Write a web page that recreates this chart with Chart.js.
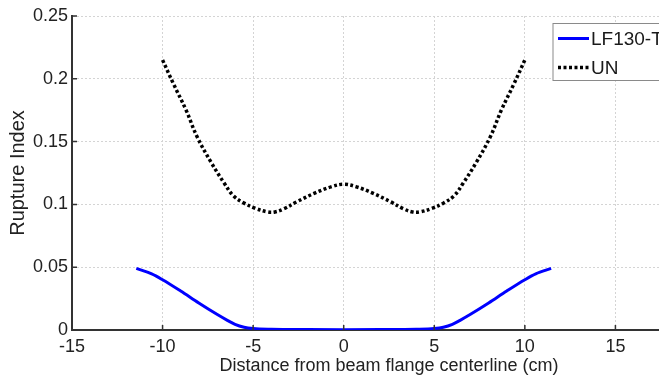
<!DOCTYPE html>
<html>
<head>
<meta charset="utf-8">
<script src="https://cdn.jsdelivr.net/npm/chart.js@4/dist/chart.umd.min.js"></script>
<style>
html,body{margin:0;padding:0;background:#fff;overflow:hidden;width:659px;height:383px;}
#wrap{position:absolute;left:0;top:0;width:722px;height:383px;}
</style>
</head>
<body>
<div id="wrap"><canvas id="c" width="722" height="383"></canvas></div>
<script>
// ---- data ----
const seriesNames = ["LF130-T", "UN"];
const lfX = [-11.45, -10.6, -10, -9, -8, -7, -6.4, -6, -5.5, -5, -4, -2, 0, 2, 4, 5, 5.5, 6, 6.4, 7, 8, 9, 10, 10.6, 11.45];
const lfY = [0.049, 0.0447, 0.040, 0.031, 0.0215, 0.0125, 0.0075, 0.0045, 0.0022, 0.0012, 0.0006, 0.0003, 0.0002, 0.0003, 0.0006, 0.0012, 0.0022, 0.0045, 0.0075, 0.0125, 0.0215, 0.031, 0.040, 0.0447, 0.049];
const unX = [-10, -9.4, -8.7, -8.1, -7.3, -6.6, -6.1, -5.5, -4.9, -4.2, -3.8, -3.3, -2.6, -1.6, -0.7, 0, 0.7, 1.6, 2.6, 3.3, 3.8, 4.2, 4.9, 5.5, 6.1, 6.6, 7.3, 8.1, 8.7, 9.4, 10];
const unY = [0.215, 0.196, 0.175, 0.154, 0.133, 0.117, 0.107, 0.101, 0.097, 0.094, 0.094, 0.0965, 0.102, 0.109, 0.114, 0.116, 0.114, 0.109, 0.102, 0.0965, 0.094, 0.094, 0.097, 0.101, 0.107, 0.117, 0.133, 0.154, 0.175, 0.196, 0.215];
const xTicks = [-15, -10, -5, 0, 5, 10, 15, 20];
const yTicks = [0, 0.05, 0.1, 0.15, 0.2, 0.25];
const xTitle = "Distance from beam flange centerline (cm)";
const yTitle = "Rupture Index";

const FONT = "'Liberation Sans', Arial, Helvetica, sans-serif";
const toPts = (xs, ys) => xs.map((x, i) => ({x: x, y: ys[i]}));

const innerTicks = {
  id: 'innerTicks',
  afterDraw(chart) {
    const {ctx, chartArea: a, scales: {x, y}} = chart;
    ctx.save();
    ctx.strokeStyle = '#333';
    ctx.lineWidth = 1.5;
    ctx.beginPath();
    xTicks.forEach(v => { const px = x.getPixelForValue(v); ctx.moveTo(px, a.bottom); ctx.lineTo(px, a.bottom - 5); });
    yTicks.forEach(v => { const py = y.getPixelForValue(v); ctx.moveTo(a.left, py); ctx.lineTo(a.left + 5, py); });
    ctx.stroke();
    ctx.restore();
  }
};

const boxLegend = {
  id: 'boxLegend',
  afterDraw(chart) {
    const ctx = chart.ctx;
    const ds = chart.data.datasets;
    const left = 553, top = 23.5, w = 140, h = 57;
    ctx.save();
    ctx.fillStyle = '#fff';
    ctx.fillRect(left, top, w, h);
    ctx.strokeStyle = '#8a8a8a';
    ctx.lineWidth = 1;
    ctx.strokeRect(left, top, w, h);
    ctx.font = "19px " + FONT;
    ctx.textBaseline = 'middle';
    ctx.fillStyle = '#1a1a1a';
    ds.forEach((d, i) => {
      const cy = top + 15 + i * 29;
      ctx.beginPath();
      ctx.strokeStyle = d.borderColor;
      ctx.lineWidth = d.borderWidth;
      ctx.setLineDash(d.borderDash || []);
      ctx.moveTo(558, cy); ctx.lineTo(589, cy);
      ctx.stroke();
      ctx.setLineDash([]);
      ctx.fillText(d.label, 591, cy + 1);
    });
    ctx.restore();
  }
};

new Chart(document.getElementById('c'), {
  type: 'line',
  data: {
    datasets: [
      { label: seriesNames[0], data: toPts(lfX, lfY), borderColor: '#0000ff', borderWidth: 3,
        pointRadius: 0, cubicInterpolationMode: 'monotone', fill: false },
      { label: seriesNames[1], data: toPts(unX, unY), borderColor: '#000000', borderWidth: 3.5,
        borderDash: [3, 2.5], pointRadius: 0, tension: 0.4, fill: false }
    ]
  },
  options: {
    responsive: false,
    animation: false,
    layout: { padding: { top: 16, right: 14, left: 0, bottom: 0 } },
    plugins: { legend: { display: false }, tooltip: { enabled: false } },
    scales: {
      x: {
        type: 'linear', min: -15, max: 20,
        afterBuildTicks: s => { s.ticks = xTicks.map(v => ({value: v})); },
        afterFit: s => { s.height = 53; },
        grid: { color: '#d4d4d4', lineWidth: 1, drawTicks: false },
        border: { display: true, color: '#333', width: 2, dash: [2, 2] },
        ticks: { color: '#222', font: { family: FONT, size: 18 }, padding: 6, maxRotation: 0,
                 callback: v => String(v) },
        title: { display: true, text: xTitle, color: '#222', font: { family: FONT, size: 18 },
                 padding: { top: 0, bottom: 6 } }
      },
      y: {
        type: 'linear', min: 0, max: 0.25,
        afterBuildTicks: s => { s.ticks = yTicks.map(v => ({value: v})); },
        afterFit: s => { s.width = 72; },
        grid: { color: '#d4d4d4', lineWidth: 1, drawTicks: false },
        border: { display: true, color: '#333', width: 2, dash: [2, 2] },
        ticks: { color: '#222', font: { family: FONT, size: 18 }, padding: 4,
                 callback: v => String(Number(v.toFixed(2))) },
        title: { display: true, text: yTitle, color: '#222', font: { family: FONT, size: 20 },
                 padding: { top: 6, bottom: 0 } }
      }
    }
  },
  plugins: [innerTicks, boxLegend]
});
</script>
</body>
</html>
